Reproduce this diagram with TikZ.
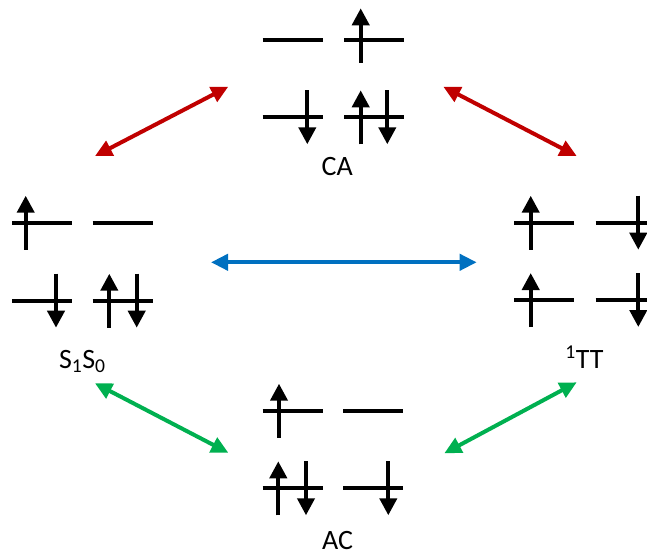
\documentclass[tikz,border=0pt]{standalone}
\usepackage{fontspec}
\setmainfont{Carlito}
\usetikzlibrary{arrows.meta}
\definecolor{cred}{HTML}{C00000}
\definecolor{cblue}{HTML}{0070C0}
\definecolor{cgreen}{HTML}{00B050}
\tikzset{
  level/.style={line width=4pt},
  spin/.style={line width=4pt,-{Triangle[length=17pt,width=17pt]}},
  conv/.style={line width=4pt,{Triangle[length=17pt,width=16pt]}-{Triangle[length=17pt,width=16pt]}},
  statelabel/.style={font=\fontsize{28}{33}\selectfont,anchor=base,inner sep=0pt}
}
\newcommand{\lvl}[2]{\draw[level] (#1,#2) -- ++(60,0);}
\newcommand{\spinup}[2]{\draw[spin] (#1,#2+27) -- (#1,#2-27);}
\newcommand{\spindn}[2]{\draw[spin] (#1,#2-27) -- (#1,#2+27);}
\begin{document}
\begin{tikzpicture}[x=1pt,y=-1pt]
\useasboundingbox (0,0) rectangle (647,554);
\clip (0,0) rectangle (647,554);
% CA
\lvl{262.7}{40} \lvl{344.3}{40}
\draw[spin] (360.7,62.7) -- (360.7,8.3);
\lvl{262.7}{117.3} \spindn{307.3}{117.3}
\lvl{344.3}{117.3} \spinup{360.7}{117.3} \spindn{387.3}{117.3}
\node[statelabel] (CA) at (337.3,175) {CA};
% S1S0
\lvl{12.3}{222.7} \spinup{25.7}{222.7}
\lvl{92.7}{222.7}
\lvl{12.3}{300.7} \spindn{56}{300.7}
\lvl{92.7}{300.7} \spinup{109.3}{300.7} \spindn{136.7}{300.7}
\node[statelabel] (S1S0) at (82.3,368) {S\textsubscript{1}S\textsubscript{0}};
% 1TT
\lvl{514}{222.7} \spinup{530.7}{222.7}
\lvl{595.7}{222.7} \spindn{638.3}{222.7}
\lvl{514}{300} \spinup{530.7}{300}
\lvl{595.7}{300} \spindn{638.3}{300}
\node[statelabel] (TT) at (584.5,368) {\textsuperscript{1}TT};
% AC
\lvl{262.7}{410.7} \spinup{279}{410.7}
\lvl{343.3}{410.7}
\lvl{262.7}{488.3} \spinup{278.3}{488.3} \spindn{306}{488.3}
\lvl{343.3}{488.3} \spindn{388.3}{488.3}
\node[statelabel] (AC) at (337.5,549) {AC};
% conversion arrows
\coordinate (sca) at (95,156);
\coordinate (cas) at (228.3,86.7);
\coordinate (catt) at (443.3,86.7);
\coordinate (ttca) at (576.7,156);
\coordinate (stt) at (211,262.3);
\coordinate (tts) at (476.7,262.3);
\coordinate (sac) at (95,383.3);
\coordinate (acs) at (228.3,452.7);
\coordinate (actt) at (444.3,453.3);
\coordinate (ttac) at (576.7,382.3);
\draw[conv,cred] (sca) -- (cas);
\draw[conv,cred] (catt) -- (ttca);
\draw[conv,cblue] (stt) -- (tts);
\draw[conv,cgreen] (sac) -- (acs);
\draw[conv,cgreen] (actt) -- (ttac);
\end{tikzpicture}
\end{document}
